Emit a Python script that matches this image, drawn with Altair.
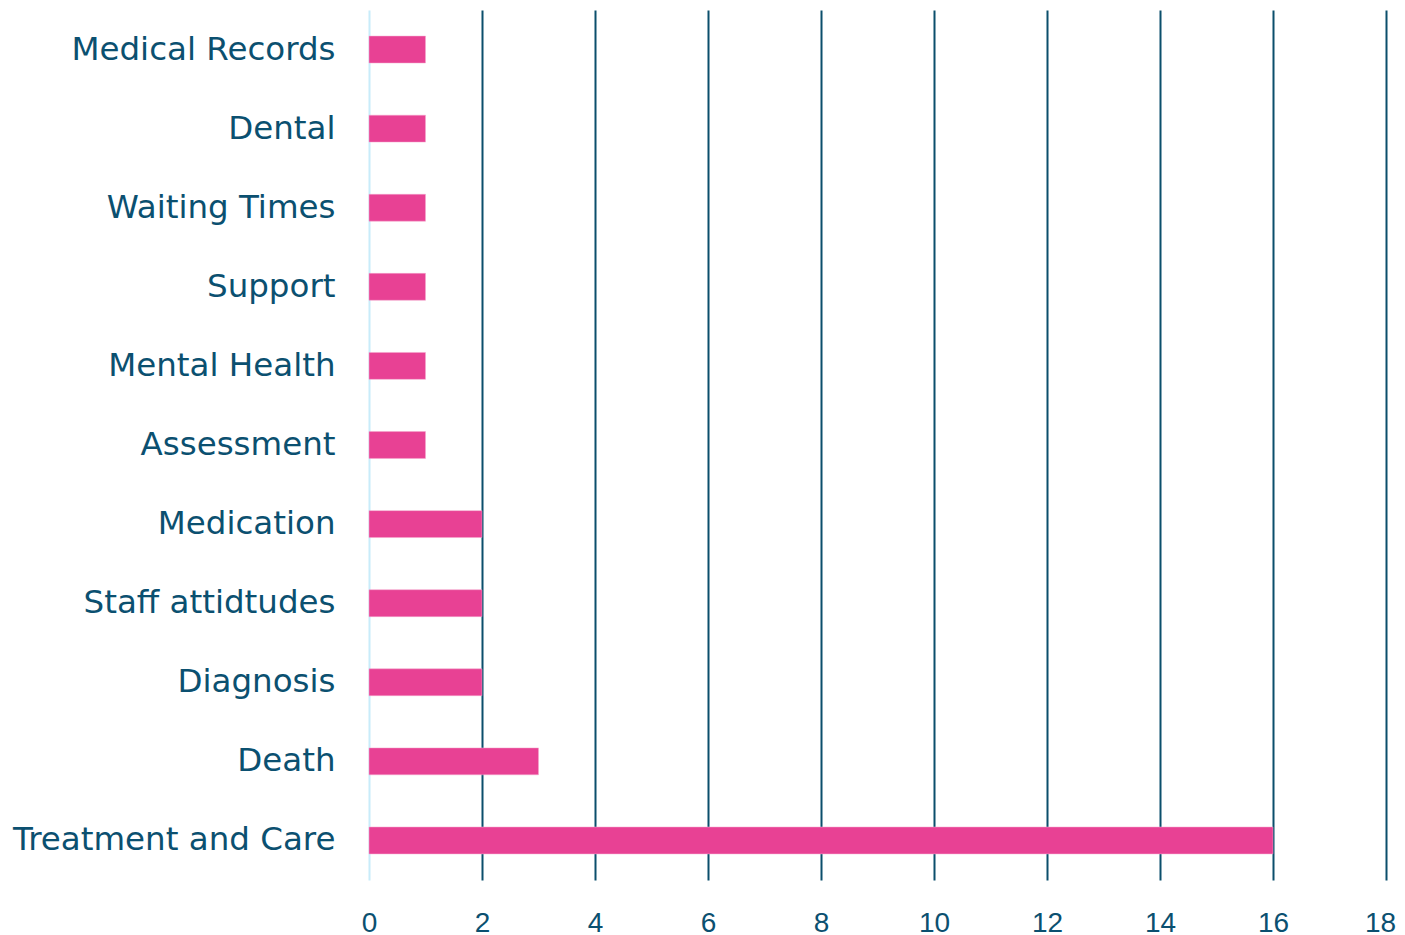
import altair as alt
import pandas as pd

categories = ["Medical Records", "Dental", "Waiting Times", "Support", "Mental Health",
              "Assessment", "Medication", "Staff attidtudes", "Diagnosis", "Death",
              "Treatment and Care"]
values = [1, 1, 1, 1, 1, 1, 2, 2, 2, 3, 16]
ticks = [0, 2, 4, 6, 8, 10, 12, 14, 16, 18]

df = pd.DataFrame({"category": categories, "value": values})

TEXT = "#0b5070"
GRID = "#0b4f6c"
FONT = "DejaVu Sans"

bars = alt.Chart(df).mark_bar(color="#e84194", stroke="#f4a6cc", strokeWidth=0.5).encode(
    x=alt.X("value:Q", scale=alt.Scale(domain=[0, 18], nice=False),
            axis=alt.Axis(values=ticks, title=None, grid=True,
                          gridColor={"condition": {"test": "datum.value === 0", "value": "#c8ecfa"}, "value": GRID},
                          gridWidth=2, domain=False, ticks=False, labelFlush=False,
                          labelOffset={"condition": {"test": "datum.value === 18", "value": -6}, "value": 0},
                          labelFont="Liberation Sans", labelFontSize=28, labelColor=TEXT,
                          labelPadding=29)),
    y=alt.Y("category:N", sort=categories,
            scale=alt.Scale(paddingInner=0.66, paddingOuter=0.33),
            axis=alt.Axis(title=None, domain=False, ticks=False,
                          labelFont=FONT, labelFontSize=32.5, labelColor=TEXT,
                          labelPadding=34, labelLimit=400)),
)

chart = bars.properties(
    width=1017, height=870,
    autosize=alt.AutoSizeParams(type="none"),
    padding={"left": 361, "top": 2, "right": 11, "bottom": 60},
).configure_view(stroke=None)

chart.save("out.html", embed_options={"renderer": "svg", "actions": False})
